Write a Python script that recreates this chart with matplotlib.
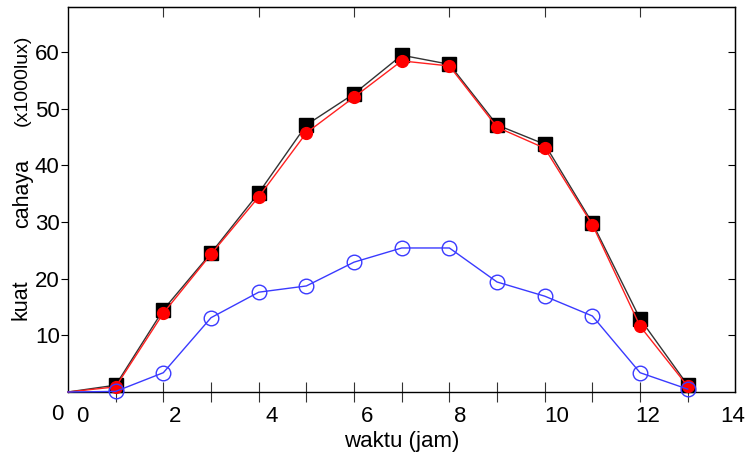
import matplotlib.pyplot as plt

# jam pengamatan (0 = awal, tanpa marker)
jam = [0, 1, 2, 3, 4, 5, 6, 7, 8, 9, 10, 11, 12, 13]
cahaya_a = [0, 1.2, 14.5, 24.5, 35.1, 47.1, 52.6, 59.4, 57.8, 47.1, 43.7, 29.8, 12.9, 1.2]
cahaya_b = [0, 0.9, 13.9, 24.3, 34.4, 45.7, 52.0, 58.4, 57.5, 46.7, 43.0, 29.5, 11.6, 1.0]
cahaya_c = [0, 0.1, 3.4, 13.1, 17.6, 18.7, 22.9, 25.4, 25.4, 19.4, 16.9, 13.4, 3.4, 0.5]

xlabel_pos = [0.31, 2.25, 4.28, 6.28, 8.23, 10.26, 12.17, 13.94]
xlabel_txt = ['0', '2', '4', '6', '8', '10', '12', '14']
yticks = [10, 20, 30, 40, 50, 60]

plt.rcParams['font.family'] = ['Liberation Sans', 'DejaVu Sans']

fig = plt.figure(figsize=(7.47, 4.53), dpi=100)
ax = fig.add_axes([0.091, 0.1347, 0.8935, 0.8498])

marks = range(1, len(jam))
ax.plot(jam, cahaya_a, color='#333333', lw=1, marker='s', ms=9.5,
        mfc='black', mec='black', markevery=marks, clip_on=False, zorder=3)
ax.plot(jam, cahaya_b, color='#ff2020', lw=1, marker='o', ms=8.5,
        mfc='red', mec='red', markevery=marks, clip_on=False, zorder=4)
ax.plot(jam, cahaya_c, color='#3a3aff', lw=1, marker='o', ms=10.5,
        mfc='none', mec='#3a3aff', mew=1, markevery=marks, clip_on=False, zorder=5)

ax.set_xlim(0, 14)
ax.set_ylim(0, 67.9)

for s in ax.spines.values():
    s.set_linewidth(1)

# bottom: labels (no tick) + minor ticks at every data hour straddling the axis
ax.set_xticks(xlabel_pos, xlabel_txt)
ax.tick_params(axis='x', which='major', length=0, labelsize=16, pad=10)
ax.set_xticks(jam[1:], minor=True)
ax.tick_params(axis='x', which='minor', direction='inout', length=15, width=0.8, color='#333333')
ax.text(-0.23, -0.058, '0', transform=ax.get_xaxis_transform(), ha='center', va='center', fontsize=16)

ax.set_yticks(yticks)
ax.tick_params(axis='y', direction='out', length=5, width=0.8, labelsize=16, pad=1)

top = ax.secondary_xaxis('top')
top.set_xticks([2, 4, 6, 8, 10, 12])
top.tick_params(direction='in', length=7, width=0.8, labeltop=False, color='#333333')
right = ax.secondary_yaxis('right')
right.set_yticks(yticks)
right.tick_params(direction='in', length=5, width=0.8, labelright=False)

ax.set_xlabel('waktu (jam)', fontsize=16, labelpad=3)
fig.text(0.028, 1 - 300 / 453, 'kuat', rotation=90, fontsize=15.5, ha='center', va='center')
fig.text(0.030, 1 - 194 / 453, 'cahaya', rotation=90, fontsize=15.5, ha='center', va='center')
fig.text(0.030, 1 - 80 / 453, '(x1000lux)', rotation=90, fontsize=14,
         family=['Liberation Sans Narrow', 'Liberation Sans'], ha='center', va='center')

fig.savefig('out.png', dpi=100)
